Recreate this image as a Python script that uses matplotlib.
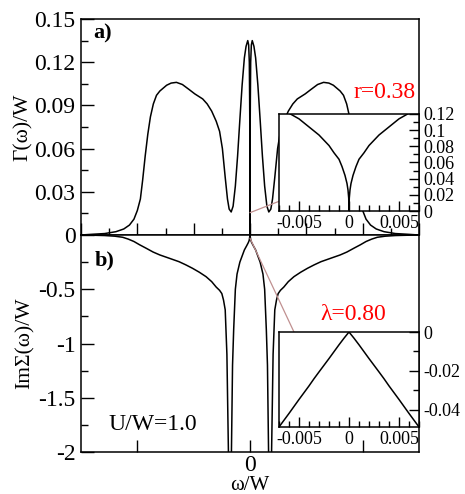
import numpy as np
import matplotlib.pyplot as plt
from matplotlib.ticker import MultipleLocator, FixedLocator
from matplotlib.patches import ConnectionPatch

plt.rcParams['font.family'] = ['Liberation Serif', 'DejaVu Serif']

# ---- data (omega <= 0 half, curves are symmetric) ----
om_gam = np.array([-1.5, -1.4, -1.29, -1.19, -1.12, -1.07, -1.03, -1.0, -0.973, -0.953,
                   -0.93, -0.907, -0.884, -0.858, -0.83, -0.8, -0.74, -0.7, -0.653, -0.6,
                   -0.54, -0.49, -0.42, -0.38, -0.34, -0.3, -0.27, -0.245, -0.22, -0.2,
                   -0.185, -0.167, -0.15, -0.13, -0.11, -0.09, -0.07, -0.05, -0.035, -0.02,
                   -0.012, -0.006, -0.003, -0.001, -0.0003, 0.0])
gam = np.array([0.0, 0.0005, 0.001, 0.0023, 0.0042, 0.0069, 0.011, 0.017, 0.025, 0.038,
                0.055, 0.07, 0.082, 0.091, 0.097, 0.1, 0.104, 0.1055, 0.106, 0.1045,
                0.101, 0.098, 0.0945, 0.091, 0.086, 0.079, 0.072, 0.06, 0.04, 0.025,
                0.018, 0.016, 0.02, 0.034, 0.055, 0.08, 0.104, 0.123, 0.131, 0.135,
                0.132, 0.12, 0.0925, 0.066, 0.043, 0.0])

om_sig = np.array([-1.5, -1.4, -1.29, -1.2, -1.13, -1.08, -1.03, -0.98, -0.92, -0.86,
                   -0.8, -0.72, -0.63, -0.57, -0.51, -0.45, -0.39, -0.34, -0.3, -0.27,
                   -0.25, -0.235, -0.22, -0.205, -0.19, -0.178, -0.166, -0.155, -0.145, -0.13,
                   -0.115, -0.09, -0.05, -0.03, -0.015, -0.007, -0.004, 0.0])
sig = np.array([0.0, -0.002, -0.005, -0.011, -0.021, -0.038, -0.06, -0.09, -0.123, -0.157,
                -0.184, -0.213, -0.246, -0.275, -0.307, -0.343, -0.384, -0.43, -0.48, -0.51,
                -0.54, -0.6, -0.69, -1.1, -2.1, -2.6, -2.1, -1.2, -0.875, -0.5,
                -0.36, -0.25, -0.138, -0.1, -0.07, -0.049, -0.028, 0.0])

om_in1 = np.array([-0.007, -0.006, -0.005, -0.004, -0.003, -0.002, -0.0015, -0.001,
                   -0.0007, -0.0004, -0.0002, -0.0001, -0.00003, 0.0])
gam_in1 = np.array([0.128, 0.121, 0.114, 0.104, 0.094, 0.081, 0.072, 0.064,
                    0.055, 0.044, 0.034, 0.026, 0.016, 0.0])

om_in2 = np.array([-0.007, -0.006, -0.005, -0.004, -0.0035, -0.003, -0.002, -0.001, -0.0005, 0.0])
sig_in2 = np.array([-0.049, -0.042, -0.0348, -0.0278, -0.0241, -0.0206, -0.0137, -0.0066, -0.0032, 0.0])


def mirror(x, y):
    return np.concatenate([x, -x[::-1][1:]]), np.concatenate([y, y[::-1][1:]])


W, H = 465.0, 494.0


def box(x0, y0, x1, y1):
    return [x0 / W, 1 - y1 / H, (x1 - x0) / W, (y1 - y0) / H]


fig = plt.figure(figsize=(4.65, 4.94), dpi=100)
ax1 = fig.add_axes(box(81, 19, 419, 235))
ax2 = fig.add_axes(box(81, 235, 419, 452))
ins1 = fig.add_axes(box(279, 114, 419, 211), zorder=3)
ins2 = fig.add_axes(box(279, 332, 419, 427), zorder=3)

lw = 1.1
x, y = mirror(om_gam, gam)
ax1.plot(x, y, 'k', lw=lw)
x, y = mirror(om_sig, sig)
ax2.plot(x, y, 'k', lw=lw)
x, y = mirror(om_in1, gam_in1)
ins1.plot(x, y, 'k', lw=lw)
x, y = mirror(om_in2, sig_in2)
ins2.plot(x, y, 'k', lw=lw)

for ax in (ax1, ax2, ins1, ins2):
    for s in ax.spines.values():
        s.set_linewidth(1.1)

# main top
ax1.set_xlim(-1.5, 1.5)
ax1.set_ylim(0, 0.15)
ax1.xaxis.set_major_locator(MultipleLocator(0.5))
ax1.xaxis.set_minor_locator(MultipleLocator(0.25))
ax1.set_xticklabels([])
ax1.yaxis.set_major_locator(FixedLocator([0, 0.03, 0.06, 0.09, 0.12, 0.15]))
ax1.set_yticklabels(['0', '0.03', '0.06', '0.09', '0.12', '0.15'])
ax1.yaxis.set_minor_locator(MultipleLocator(0.015))
ax1.set_ylabel('Γ(ω)/W', fontsize=15.5, va='center')
ax1.yaxis.set_label_coords(-0.172, 0.5)

# main bottom
ax2.set_xlim(-1.5, 1.5)
ax2.set_ylim(-2, 0)
ax2.xaxis.set_major_locator(FixedLocator([-1, 0, 1]))
ax2.set_xticklabels(['', '0', ''])
ax2.yaxis.set_major_locator(FixedLocator([-2, -1.5, -1, -0.5, 0]))
ax2.set_yticklabels(['-2', '-1.5', '-1', '-0.5', ''])
ax2.yaxis.set_minor_locator(MultipleLocator(0.25))
ax2.set_ylabel('ImΣ(ω)/W', fontsize=15.5, va='center')
ax2.yaxis.set_label_coords(-0.166, 0.5)
ax2.set_xlabel('ω/W', fontsize=15, va='center')
ax2.xaxis.set_label_coords(0.5, -0.156)

for ax in (ax1, ax2):
    ax.tick_params(which='both', direction='in', top=False, right=False, labelsize=17, pad=4)
    ax.tick_params(which='major', length=9, width=1)
    ax.tick_params(which='minor', length=5, width=1)
ax2.tick_params(axis='x', pad=2)

# insets
ins1.set_xlim(-0.007, 0.007)
ins1.set_ylim(0, 0.12)
ins1.yaxis.set_major_locator(FixedLocator([0, 0.02, 0.04, 0.06, 0.08, 0.1, 0.12]))
ins1.set_yticklabels(['0', '0.02', '0.04', '0.06', '0.08', '0.1', '0.12'])
ins1.yaxis.set_minor_locator(MultipleLocator(0.01))

ins2.set_xlim(-0.007, 0.007)
ins2.set_ylim(-0.049, 0)
ins2.yaxis.set_major_locator(FixedLocator([-0.04, -0.02, 0]))
ins2.set_yticklabels(['-0.04', '-0.02', '0'])
ins2.yaxis.set_minor_locator(MultipleLocator(0.01))

for ax in (ins1, ins2):
    ax.xaxis.set_major_locator(FixedLocator([-0.005, 0, 0.005]))
    ax.set_xticklabels(['-0.005', '0', '0.005'])
    ax.xaxis.set_minor_locator(MultipleLocator(0.001))
    ax.yaxis.tick_right()
    ax.tick_params(which='both', direction='in', top=False, left=False, labelsize=13, pad=3)
    ax.tick_params(which='major', length=7, width=1)
    ax.tick_params(which='minor', length=4.5, width=1)
    ax.set_facecolor('white')

# connector lines
con1 = ConnectionPatch(xyA=(0.0, 0.0155), coordsA=ax1.transData,
                       xyB=(0.0, 0.1), coordsB=ins1.transAxes,
                       color='#c09090', lw=0.9, zorder=2)
fig.add_artist(con1)
con2 = ConnectionPatch(xyA=(0.0, -0.03), coordsA=ax2.transData,
                       xyB=(0.107, 1.0), coordsB=ins2.transAxes,
                       color='#c09090', lw=0.9, zorder=2)
fig.add_artist(con2)

# texts
fig.text(93 / W, 1 - 33 / H, 'a)', fontsize=16, weight='bold', va='center')
fig.text(95 / W, 1 - 260 / H, 'b)', fontsize=16, weight='bold', va='center')
fig.text(153 / W, 1 - 425 / H, 'U/W=1.0', fontsize=17, ha='center', va='center')
fig.text(353 / W, 1 - 92 / H, 'r=0.38', fontsize=17, color='red', va='center')
fig.text(320 / W, 1 - 315 / H, 'λ=0.80', fontsize=17, color='red', va='center')

fig.savefig('out.png', dpi=100)
